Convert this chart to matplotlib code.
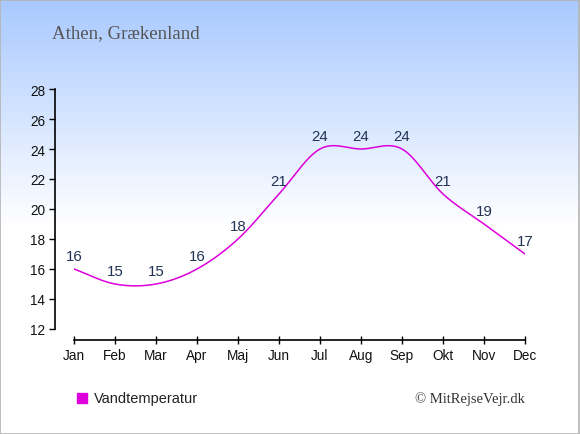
import numpy as np
import matplotlib
matplotlib.use("Agg")
import matplotlib.pyplot as plt
from matplotlib.patches import Rectangle

months = ["Jan", "Feb", "Mar", "Apr", "Maj", "Jun", "Jul", "Aug", "Sep", "Okt", "Nov", "Dec"]
water_temp = [16, 15, 15, 16, 18, 21, 24, 24, 24, 21, 19, 17]
yticks = [12, 14, 16, 18, 20, 22, 24, 26, 28]
title = "Athen, Grækenland"
legend_label = "Vandtemperatur"
credit = "© MitRejseVejr.dk"

LINE = "#dd00dd"
W, H, DPI = 580, 435, 100

fig = plt.figure(figsize=(W / DPI, H / DPI), dpi=DPI)

# background gradient
bg = fig.add_axes([0, 0, 1, 1], zorder=-10)
bg.axis("off")
rows = np.linspace(0, 1, H)
top = np.array([168, 201, 255]) / 255.0
frac = np.clip(rows / 0.52, 0, 1)[:, None]
grad = top * (1 - frac) + np.ones(3) * frac
img = np.repeat(grad[:, None, :], W, axis=1)
bg.imshow(img, aspect="auto", extent=[0, 1, 0, 1], origin="upper")
bg.set_xlim(0, 1)
bg.set_ylim(0, 1)
bg.add_patch(Rectangle((0.0008, 0.001), 0.998, 0.997, fill=False, ec="#b4b4b4", lw=1.2,
                       transform=bg.transAxes))

ax = fig.add_axes([74 / W, 1 - 330 / H, (525 - 74) / W, (330 - 90) / H])
ax.patch.set_alpha(0)

# Catmull-Rom smoothing of the line through the data points
x = np.arange(len(water_temp), dtype=float)
y = np.array(water_temp, dtype=float)
m = np.zeros_like(y)
m[1:-1] = (y[2:] - y[:-2]) / 2.0
m[0] = y[1] - y[0]
m[-1] = y[-1] - y[-2]
xs, ys = [], []
for i in range(len(x) - 1):
    t = np.linspace(0, 1, 40)
    h00 = 2 * t**3 - 3 * t**2 + 1
    h10 = t**3 - 2 * t**2 + t
    h01 = -2 * t**3 + 3 * t**2
    h11 = t**3 - t**2
    xs.append(x[i] + t)
    ys.append(h00 * y[i] + h10 * m[i] + h01 * y[i + 1] + h11 * m[i + 1])
ax.plot(np.concatenate(xs), np.concatenate(ys), color=LINE, lw=1.1, solid_capstyle="round")

for xi, v in zip(x, water_temp):
    ax.annotate(f"{v}", (xi, v), xytext=(0, 4), textcoords="offset points",
                ha="center", va="bottom", fontsize=10.8, color="#223355",
                family="Liberation Sans")

ax.set_xlim(0, 11)
ax.set_ylim(12, 28)
ax.set_xticks(x)
ax.set_xticklabels(months)
ax.set_yticks(yticks)
for s in ["top", "right"]:
    ax.spines[s].set_visible(False)
ax.spines["left"].set_position(("outward", 19 * 72 / DPI))
ax.spines["bottom"].set_position(("outward", 11 * 72 / DPI))
for s in ["left", "bottom"]:
    ax.spines[s].set_linewidth(1.2)
    ax.spines[s].set_color("black")
ax.tick_params(axis="y", direction="out", length=4, width=1, pad=3, labelsize=9.8)
ax.tick_params(axis="x", direction="inout", length=6, width=1, pad=3, labelsize=9.8)
for lab in ax.get_xticklabels() + ax.get_yticklabels():
    lab.set_family("Liberation Sans")
    lab.set_color("#111111")

fig.text(52 / W, 1 - 38 / H, title, fontsize=13.6, color="#555555",
         family="Liberation Serif", ha="left", va="baseline")

fig.patches.append(Rectangle((77 / W, 1 - 404 / H), 10 / W, 10 / H, color="#dd00dd",
                             transform=fig.transFigure, figure=fig))
fig.text(94 / W, 1 - 403 / H, legend_label, fontsize=10.5, color="#222222",
         family="Liberation Sans", ha="left", va="baseline")
fig.text(525 / W, 1 - 403 / H, credit, fontsize=10.5, color="#333333",
         family="Liberation Serif", ha="right", va="baseline")

fig.savefig("out.png", dpi=DPI)
